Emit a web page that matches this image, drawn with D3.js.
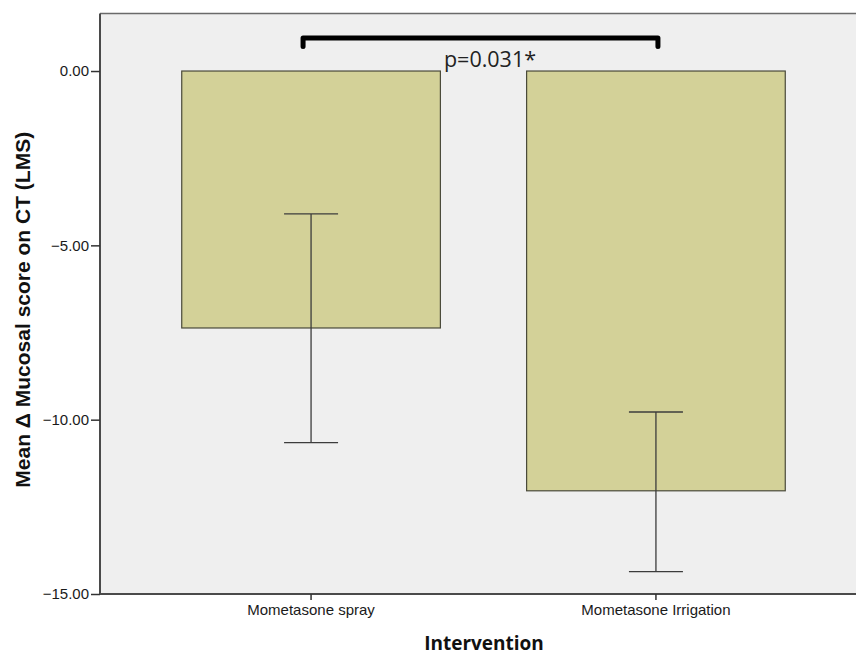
<!DOCTYPE html>
<html>
<head>
<meta charset="utf-8">
<script src="https://cdn.jsdelivr.net/npm/d3@7"></script>
<style>
  html, body { margin: 0; padding: 0; background: #ffffff; }
  svg { display: block; }
</style>
</head>
<body>
<svg id="chart" width="856" height="656"></svg>
<script>
// Mean change in Lund-Mackay score by intervention, with error bars
const categories = ["Mometasone spray", "Mometasone Irrigation"];
const meanValues = [-7.37, -12.04];
const errorUpper = [-4.10, -9.78];
const errorLower = [-10.66, -14.36];
const yTicks = [0, -5, -10, -15];
const pLabel = "p=0.031*";

const svg = d3.select("#chart");
const W = 856, H = 656;
const mLeft = 100, mTop = 13.5, mBottom = 594, mRight = 867;

const x = d3.scaleBand()
  .domain(categories)
  .range([mLeft, mRight])
  .paddingInner(0.25)
  .paddingOuter(0.237);

const y = d3.scaleLinear()
  .domain([-15, 1.65])
  .range([mBottom, mTop]);

// plot background
svg.append("rect")
  .attr("x", mLeft).attr("y", mTop)
  .attr("width", W - mLeft).attr("height", mBottom - mTop)
  .attr("fill", "#efefef");

// top frame line
svg.append("line")
  .attr("x1", mLeft).attr("x2", W)
  .attr("y1", mTop).attr("y2", mTop)
  .attr("stroke", "#6a6a6a").attr("stroke-width", 1.5);

// bars
svg.selectAll("rect.bar")
  .data(categories)
  .enter().append("rect")
  .attr("class", "bar")
  .attr("x", d => x(d))
  .attr("width", x.bandwidth())
  .attr("y", y(0))
  .attr("height", (d, i) => y(meanValues[i]) - y(0))
  .attr("fill", "#d3d198")
  .attr("stroke", "#4a4a3a")
  .attr("stroke-width", 1.2);

// error bars
const capHalf = 27;
const eb = svg.append("g").attr("stroke", "#3c3c3c").attr("stroke-width", 1.3);
categories.forEach((c, i) => {
  const cx = x(c) + x.bandwidth() / 2;
  eb.append("line").attr("x1", cx).attr("x2", cx)
    .attr("y1", y(errorUpper[i])).attr("y2", y(errorLower[i]));
  eb.append("line").attr("x1", cx - capHalf).attr("x2", cx + capHalf)
    .attr("y1", y(errorUpper[i])).attr("y2", y(errorUpper[i]));
  eb.append("line").attr("x1", cx - capHalf).attr("x2", cx + capHalf)
    .attr("y1", y(errorLower[i])).attr("y2", y(errorLower[i]));
});

// y axis
const yAxis = d3.axisLeft(y)
  .tickValues(yTicks)
  .tickFormat(d3.format(".2f"))
  .tickSize(9)
  .tickPadding(2);
const gy = svg.append("g")
  .attr("transform", `translate(${mLeft},0)`)
  .call(yAxis);
gy.select(".domain").attr("stroke", "#4a4a4a").attr("stroke-width", 2)
  .attr("d", `M0,${mTop}V${mBottom}`);
gy.selectAll(".tick line").attr("stroke", "#333").attr("stroke-width", 1.5);
gy.selectAll(".tick text")
  .attr("font-family", "Liberation Sans, Arial, sans-serif")
  .attr("font-size", 15)
  .attr("fill", "#1a1a1a");

// x axis
const xAxis = d3.axisBottom(x).tickSize(6).tickPadding(4);
const gx = svg.append("g")
  .attr("transform", `translate(0,${mBottom})`)
  .call(xAxis);
gx.select(".domain").attr("stroke", "#4a4a4a").attr("stroke-width", 2)
  .attr("d", `M${mLeft},0H${W}`);
gx.selectAll(".tick line").attr("stroke", "#333").attr("stroke-width", 1.5);
gx.selectAll(".tick text")
  .attr("font-family", "Liberation Sans, Arial, sans-serif")
  .attr("font-size", 15)
  .attr("fill", "#1a1a1a");

// axis titles
svg.append("text")
  .attr("transform", `translate(30,${(y(1.65) + y(-15)) / 2 + 6}) rotate(-90)`)
  .attr("text-anchor", "middle")
  .attr("font-family", "Liberation Sans, Arial, sans-serif")
  .attr("font-weight", "bold")
  .attr("font-size", 21)
  .attr("fill", "#111")
  .text("Mean \u0394 Mucosal score on CT (LMS)");

svg.append("text")
  .attr("x", 484).attr("y", 650)
  .attr("text-anchor", "middle")
  .attr("font-family", "Open Sans, sans-serif")
  .attr("font-weight", "bold")
  .attr("font-size", 19)
  .attr("fill", "#111")
  .text("Intervention");

// significance bracket
const bx1 = x(categories[0]) + x.bandwidth() / 2 - 8;
const bx2 = x(categories[1]) + x.bandwidth() / 2 + 2;
const by = y(0.95), byEnd = y(0.7);
svg.append("path")
  .attr("d", `M${bx1},${byEnd}V${by}H${bx2}V${byEnd}`)
  .attr("fill", "none")
  .attr("stroke", "#000")
  .attr("stroke-width", 5)
  .attr("stroke-linejoin", "round")
  .attr("stroke-linecap", "round");

svg.append("text")
  .attr("x", 490).attr("y", 67)
  .attr("text-anchor", "middle")
  .attr("font-family", "Open Sans, sans-serif")
  .attr("font-size", 21.5)
  .attr("fill", "#222")
  .text(pLabel);
</script>
</body>
</html>
